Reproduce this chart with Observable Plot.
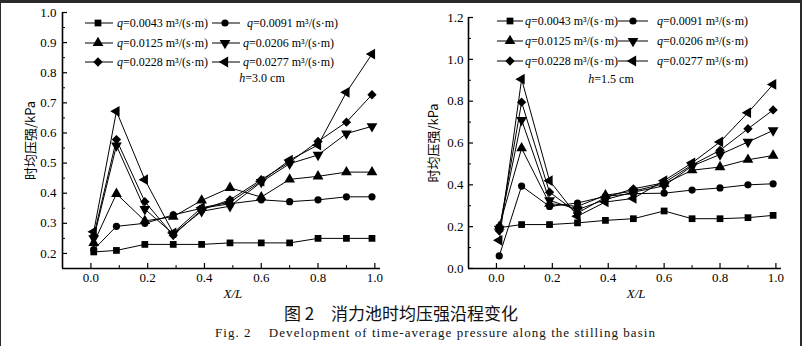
<!DOCTYPE html>
<html><head><meta charset="utf-8">
<script src="https://cdn.jsdelivr.net/npm/d3@7"></script>
<script src="https://cdn.jsdelivr.net/npm/@observablehq/plot@0.6"></script>
<style>
html,body{margin:0;padding:0;background:#fff;}
#wrap{position:relative;width:802px;height:346px;overflow:hidden;background:#fff;}
.panel{position:absolute;top:0;}
#border{position:absolute;left:0;top:0;width:802px;height:346px;box-sizing:border-box;border-top:3px solid #2b2b2b;border-left:1px solid #2b2b2b;border-right:2px solid #2b2b2b;pointer-events:none;}
#capZh{position:absolute;left:0;width:802px;top:302px;text-align:center;font-family:"Noto Sans CJK SC",sans-serif;font-size:17px;color:#111;line-height:22px;}
#capEn{position:absolute;left:215px;top:324px;font-family:"Liberation Serif","Times New Roman",serif;font-size:13px;letter-spacing:1.05px;color:#111;white-space:pre;line-height:18px;}
</style></head>
<body>
<div id="wrap">
  <div id="left" class="panel" style="left:0"></div>
  <div id="right" class="panel" style="left:401px"></div>
  <div id="capZh">图 2　消力池时均压强沿程变化</div>
  <div id="capEn">Fig. 2    Development of time-average pressure along the stilling basin</div>
  <div id="border"></div>
</div>
<script>
// ---------- data ----------
const xPos = [0.01, 0.09, 0.19, 0.29, 0.39, 0.49, 0.6, 0.7, 0.8, 0.9, 0.99];
const qLabels = ["0.0043", "0.0091", "0.0125", "0.0206", "0.0228", "0.0277"];
const xTickLabels = [0, 0.2, 0.4, 0.6, 0.8, 1.0];
const xMinorTicks = [0.1, 0.3, 0.5, 0.7, 0.9];

// h = 3.0 cm
const leftTitle = "h=3.0 cm";
const leftQ0043 = [0.205, 0.21, 0.23, 0.23, 0.23, 0.235, 0.235, 0.235, 0.25, 0.25, 0.25];
const leftQ0091 = [0.213, 0.29, 0.30, 0.328, 0.35, 0.365, 0.378, 0.372, 0.378, 0.388, 0.388];
const leftQ0125 = [0.235, 0.398, 0.308, 0.322, 0.376, 0.418, 0.387, 0.446, 0.456, 0.47, 0.47];
const leftQ0206 = [0.25, 0.558, 0.347, 0.265, 0.34, 0.357, 0.437, 0.498, 0.527, 0.598, 0.622];
const leftQ0228 = [0.258, 0.578, 0.372, 0.26, 0.345, 0.378, 0.445, 0.503, 0.572, 0.636, 0.727];
const leftQ0277 = [0.272, 0.672, 0.445, 0.268, 0.352, 0.37, 0.44, 0.51, 0.56, 0.735, 0.862];
const leftYTicks = [0.2, 0.3, 0.4, 0.5, 0.6, 0.7, 0.8, 0.9, 1.0];
const leftYMinor = [0.25, 0.35, 0.45, 0.55, 0.65, 0.75, 0.85, 0.95];

// h = 1.5 cm
const rightTitle = "h=1.5 cm";
const rightQ0043 = [0.195, 0.21, 0.21, 0.218, 0.23, 0.238, 0.275, 0.238, 0.238, 0.243, 0.254];
const rightQ0091 = [0.06, 0.394, 0.297, 0.313, 0.345, 0.358, 0.36, 0.375, 0.385, 0.40, 0.405];
const rightQ0125 = [0.2, 0.575, 0.31, 0.297, 0.35, 0.37, 0.405, 0.47, 0.485, 0.52, 0.54];
const rightQ0206 = [0.19, 0.71, 0.326, 0.281, 0.33, 0.365, 0.395, 0.49, 0.545, 0.605, 0.66];
const rightQ0228 = [0.18, 0.795, 0.365, 0.265, 0.34, 0.381, 0.41, 0.495, 0.565, 0.668, 0.758];
const rightQ0277 = [0.135, 0.905, 0.42, 0.25, 0.318, 0.335, 0.42, 0.505, 0.605, 0.745, 0.88];
const rightYTicks = [0, 0.2, 0.4, 0.6, 0.8, 1.0, 1.2];
const rightYMinor = [0.1, 0.3, 0.5, 0.7, 0.9, 1.1];

// ---------- symbols ----------
const s3 = Math.sqrt(3);
const triDown = {draw(c, size) { const y = Math.sqrt(size / (s3 * 3)); c.moveTo(0, 2 * y); c.lineTo(-s3 * y, -y); c.lineTo(s3 * y, -y); c.closePath(); }};
const triLeft = {draw(c, size) { const y = Math.sqrt(size / (s3 * 3)); c.moveTo(-2 * y, 0); c.lineTo(y, -s3 * y); c.lineTo(y, s3 * y); c.closePath(); }};
const symbols = [d3.symbolSquare, d3.symbolCircle, d3.symbolTriangle, triDown, d3.symbolDiamond2, triLeft];
const radii = [3.8, 3.6, 4.0, 4.0, 4.2, 4.0];

const serif = "\"Liberation Serif\", \"Times New Roman\", serif";

function panel(el, cfg) {
  const W = 401, H = 300;
  const innerW = W - cfg.ml - cfg.mr, innerH = H - cfg.mt - cfg.mb;
  const marks = [];
  cfg.series.forEach((ys, i) => {
    const data = xPos.map((x, j) => ({x, y: ys[j]}));
    marks.push(Plot.line(data, {x: "x", y: "y", stroke: "#000", strokeWidth: 1}));
    marks.push(Plot.dot(data, {x: "x", y: "y", symbol: symbols[i], r: radii[i], fill: "#000", stroke: "none"}));
  });
  marks.push(
    Plot.ruleX([-0.1], {stroke: "#000", strokeWidth: 1.6}),
    Plot.ruleY([cfg.yDomain[0]], {stroke: "#000", strokeWidth: 1.6}),
    Plot.tickY(cfg.yTicks, {y: d => d, insetRight: innerW - 5, stroke: "#000", strokeWidth: 1.2}),
    Plot.tickY(cfg.yMinor, {y: d => d, insetRight: innerW - 3, stroke: "#000", strokeWidth: 1}),
    Plot.tickX(xTickLabels, {x: d => d, insetTop: innerH - 5, stroke: "#000", strokeWidth: 1.2}),
    Plot.tickX(xMinorTicks, {x: d => d, insetTop: innerH - 3, stroke: "#000", strokeWidth: 1}),
    Plot.axisX(xTickLabels, {tickSize: 0, tickPadding: 4, tickFormat: d3.format(".1f"), label: null, fontSize: 13, fontFamily: serif}),
    Plot.axisY(cfg.yTicks, {tickSize: 0, tickPadding: cfg.tp, tickFormat: d3.format(".1f"), label: null, fontSize: 13, fontFamily: serif}),
    Plot.text(["时均压强/kPa"], {frameAnchor: "left", dx: cfg.ldx, rotate: -90, textAnchor: "middle", lineAnchor: "middle", fontFamily: "Noto Sans CJK SC, sans-serif", fontSize: 13}),
    Plot.text([{x: 0.5, t: "X/L"}], {x: "x", text: "t", frameAnchor: "bottom", dy: 25, lineAnchor: "middle", fontStyle: "italic", fontSize: 13, fontFamily: serif})
  );
  const p = Plot.plot({
    width: W, height: H,
    marginLeft: cfg.ml, marginRight: cfg.mr, marginTop: cfg.mt, marginBottom: cfg.mb,
    x: {domain: [-0.1, 1.02]},
    y: {domain: cfg.yDomain},
    style: {fontFamily: serif, fontSize: "13px", color: "#000", background: "transparent", overflow: "visible"},
    marks
  });
  el.appendChild(p);

  // legend overlay
  const lg = d3.select(el).append("svg")
    .attr("width", W).attr("height", 100)
    .style("position", "absolute").style("left", "0px").style("top", "0px")
    .style("font-family", serif).style("font-size", "12px");
  cfg.legend.forEach((L, i) => {
    const g = lg.append("g");
    g.append("line").attr("x1", L.x1).attr("x2", L.x2).attr("y1", L.y).attr("y2", L.y).attr("stroke", "#000").attr("stroke-width", 1);
    g.append("path").attr("d", d3.symbol(symbols[i], Math.PI * radii[i] * radii[i])()).attr("transform", `translate(${L.m},${L.y})`).attr("fill", "#000");
    const t = g.append("text").attr("x", L.tx).attr("y", L.y).attr("dy", "0.35em").attr("fill", "#000");
    t.append("tspan").attr("font-style", "italic").text("q");
    t.append("tspan").text("=" + qLabels[i] + " m³/(s" + L.dot + "m)");
  });
  const ht = lg.append("text").attr("x", cfg.hx).attr("y", cfg.hy).attr("dy", "0.35em").attr("text-anchor", "middle").style("font-size", "12px").attr("fill", "#000");
  ht.append("tspan").attr("font-style", "italic").text(cfg.title.slice(0, 1));
  ht.append("tspan").text(cfg.title.slice(1));
}

function legendRows(c1, c2, rows, off) {
  const out = [];
  rows.forEach((y, r) => {
    out.push({x1: c1.x1 - off, x2: c1.x2 - off, m: c1.m - off, tx: c1.tx - off, y, dot: c1.dot});
    out.push({x1: c2.x1 - off, x2: c2.x2 - off, m: c2.m - off, tx: (r === 0 && c2.tx0 ? c2.tx0 : c2.tx) - off, y, dot: c2.dot});
  });
  return out;
}

panel(document.getElementById("left"), {
  series: [leftQ0043, leftQ0091, leftQ0125, leftQ0206, leftQ0228, leftQ0277],
  yDomain: [0.15, 1.0], yTicks: leftYTicks, yMinor: leftYMinor,
  ml: 62, mr: 21, mt: 12, mb: 32, tp: 6, ldx: -32,
  title: leftTitle, hx: 262, hy: 78,
  legend: legendRows({x1: 85, x2: 113, m: 98, tx: 117, dot: "·"}, {x1: 212, x2: 240, m: 225, tx: 243, tx0: 247, dot: "·"}, [23, 43, 62], 0)
});
panel(document.getElementById("right"), {
  series: [rightQ0043, rightQ0091, rightQ0125, rightQ0206, rightQ0228, rightQ0277],
  yDomain: [0, 1.2], yTicks: rightYTicks, yMinor: rightYMinor,
  ml: 67, mr: 21, mt: 17, mb: 32, tp: 5, ldx: -35,
  title: rightTitle, hx: 611 - 401, hy: 79,
  legend: legendRows({x1: 497, x2: 523, m: 510, tx: 525, dot: "\u200A·\u200A"}, {x1: 618, x2: 648, m: 633, tx: 657, dot: "·"}, [21, 41, 61], 401)
});
</script>
</body></html>
